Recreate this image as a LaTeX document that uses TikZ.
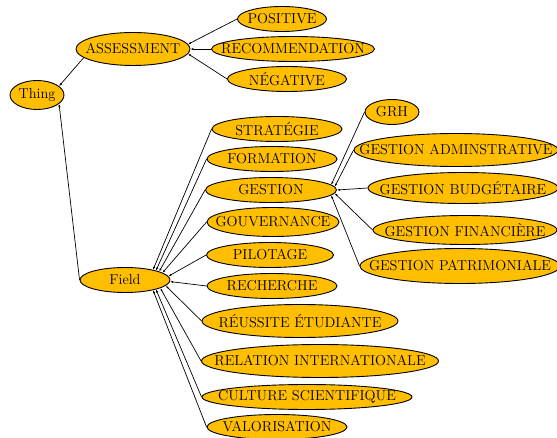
\documentclass[tikz,border=0pt]{standalone}
\usepackage{tikz}
\usepackage{color}
\usetikzlibrary{shapes.geometric,arrows.meta}
\definecolor{amber}{RGB}{255,190,0}

\begin{document}
\begin{tikzpicture}[x=1pt,y=-1pt,
 term/.style={ellipse,draw=black,fill=amber,line width=0.9pt,inner xsep=-100pt,inner ysep=-10pt,font=\Large},
 sz/.style 2 args={minimum width=#1pt,minimum height=#2pt},
 link/.style={black,-{Latex[length=3pt,width=2.2pt]},line width=0.7pt}]
 \useasboundingbox (0,0) rectangle (557,438);
 \node[term,sz={54}{29}] (thing) at (37,95) {Thing};
 \node[term,sz={114}{33}] (assessment) at (133,49) {ASSESSMENT};
 \node[term,sz={89}{25}] (positive) at (282,19) {POSITIVE};
 \node[term,sz={163}{25}] (recommendation) at (293,49) {RECOMMENDATION};
 \node[term,sz={119}{25}] (negative) at (287,79) {NÉGATIVE};
 \node[term,sz={90}{25}] (field) at (125,280) {Field};
 \node[term,sz={130}{25}] (strategie) at (277,129) {STRATÉGIE};
 \node[term,sz={130}{25}] (formation) at (272,159) {FORMATION};
 \node[term,sz={131}{25}] (gestion) at (271,190) {GESTION};
 \node[term,sz={132}{29}] (gouvernance) at (273,222) {GOUVERNANCE};
 \node[term,sz={127}{25}] (pilotage) at (270,255) {PILOTAGE};
 \node[term,sz={130}{25}] (recherche) at (272,286) {RECHERCHE};
 \node[term,sz={196}{33}] (reussite) at (300,321) {RÉUSSITE ÉTUDIANTE};
 \node[term,sz={237}{33}] (relation) at (320,361) {RELATION INTERNATIONALE};
 \node[term,sz={210}{25}] (culture) at (307,397) {CULTURE SCIENTIFIQUE};
 \node[term,sz={140}{25}] (valorisation) at (277,427) {VALORISATION};
 \node[term,sz={54}{25}] (grh) at (392,112) {GRH};
 \node[term,sz={204}{33}] (admin) at (456,150) {GESTION ADMINSTRATIVE};
 \node[term,sz={190}{31}] (budget) at (463,188) {GESTION BUDGÉTAIRE};
 \node[term,sz={184}{29}] (finance) at (465,230) {GESTION FINANCIÈRE};
 \node[term,sz={200}{35}] (patrimoine) at (460,266) {GESTION PATRIMONIALE};
 \draw[link] (assessment.190)--(thing.22);
 \draw[link] (field.west)--(thing.-22);
 \draw[link] (positive.west)--(assessment.5);
 \draw[link] (recommendation.west)--(assessment.east);
 \draw[link] (negative.west)--(assessment.-5);
 \draw[link] (strategie.west)--(field.20);
 \draw[link] (formation.west)--(field.17);
 \draw[link] (gestion.west)--(field.14);
 \draw[link] (gouvernance.west)--(field.11);
 \draw[link] (pilotage.west)--(field.5);
 \draw[link] (recherche.west)--(field.-2);
 \draw[link] (reussite.west)--(field.-8);
 \draw[link] (relation.west)--(field.-13);
 \draw[link] (culture.west)--(field.-17);
 \draw[link] (valorisation.west)--(field.-20);
 \draw[link] (grh.west)--(gestion.5);
 \draw[link] (admin.west)--(gestion.3);
 \draw[link] (budget.west)--(gestion.east);
 \draw[link] (finance.west)--(gestion.-3);
 \draw[link] (patrimoine.west)--(gestion.-5);
\end{tikzpicture}
\end{document}
